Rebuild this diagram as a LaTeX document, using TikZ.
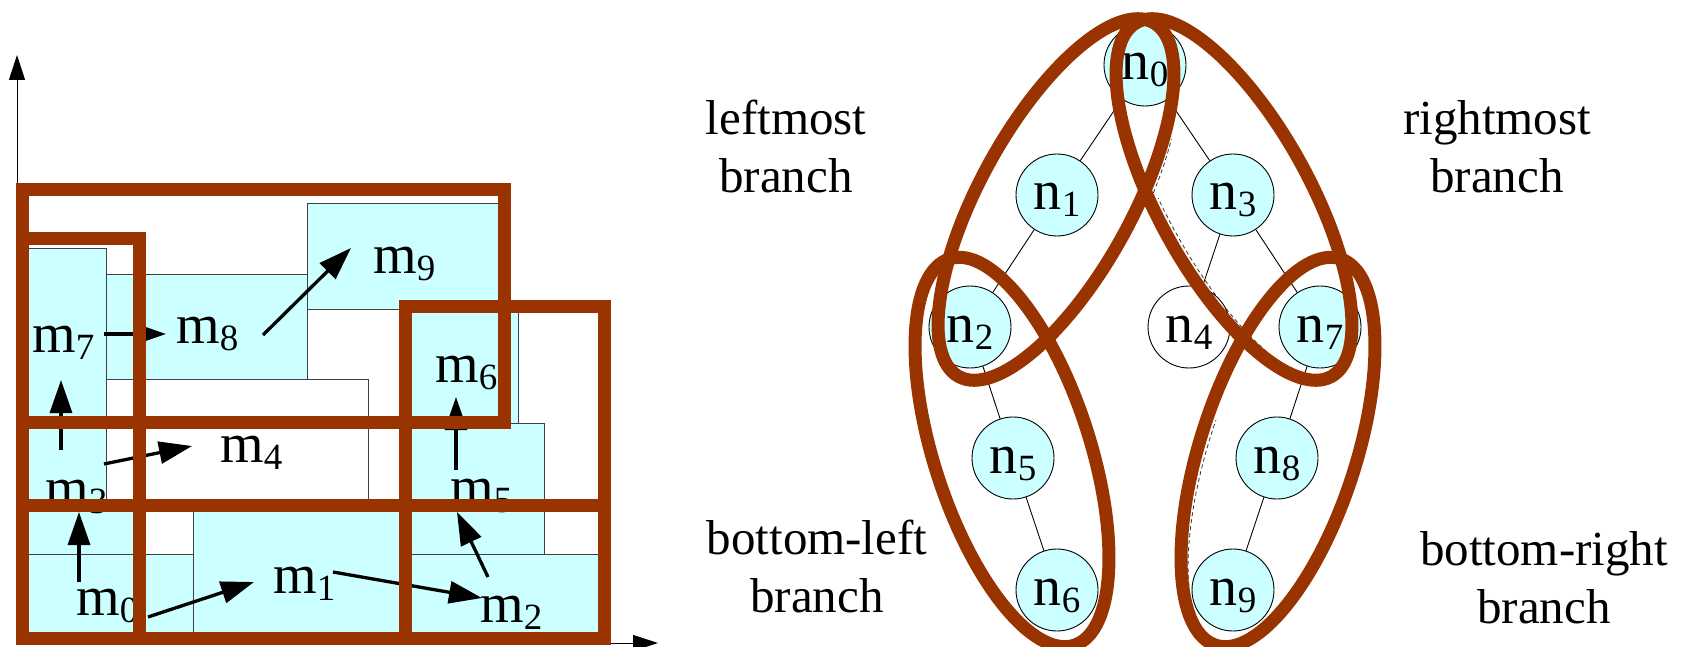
\documentclass[tikz,border=0pt]{standalone}
\usepackage{fontspec}
\setmainfont{Liberation Serif}
\usetikzlibrary{arrows.meta}
\definecolor{brick}{HTML}{993300}
\definecolor{paleblue}{HTML}{CCFFFF}
% lowered, smaller index digit used in m_i and n_i
\newcommand\idx[1]{\raisebox{-7pt}{\fontsize{37}{37}\selectfont #1}}

\begin{document}
\begin{tikzpicture}[x=1pt,y=-1pt,
  block/.style={fill=paleblue, draw=black!75, line width=0.9pt},
  voidblock/.style={fill=white, draw=black!75, line width=0.9pt},
  frame/.style={draw=brick, line width=13pt},
  mlabel/.style={anchor=base west, inner sep=0pt, font=\fontsize{56}{56}\selectfont},
  move/.style={line width=3.3pt, -{Triangle[length=33pt,width=22pt]}},
  axis/.style={line width=1pt, -{Triangle[length=25pt,width=16pt]}},
  tnode/.style={circle, draw=black, line width=0.9pt, fill=paleblue, minimum size=82pt,
                inner sep=0pt, text height=40pt, text depth=10pt, font=\fontsize{56}{56}\selectfont},
  treeedge/.style={draw=black, line width=0.9pt},
  branch/.style={draw=brick, line width=13pt},
  ghost/.style={draw=black!80, line width=0.8pt, dash pattern=on 4pt off 3pt},
  caption/.style={align=center, font=\fontsize{49}{58}\selectfont, inner sep=0pt}
]
\useasboundingbox (0,0) rectangle (1682,647);

% ---------------- left: placement grid ----------------
\coordinate (origin) at (17,643);
\coordinate (ytop) at (17,55);
\coordinate (xend) at (658,643);
\draw[axis] (origin) -- (ytop);
\draw[axis] (origin) -- (xend);

% module blocks
\path[block] (22,554) rectangle (193,638);   % m0
\path[block] (193,505) rectangle (405,638);  % m1
\path[block] (405,554) rectangle (598,638);  % m2
\path[block] (22,422) rectangle (139,554);   % m3
\path[voidblock] (106,379) rectangle (368,505); % m4
\path[block] (405,423) rectangle (544,554);  % m5
\path[block] (405,306) rectangle (518,423);  % m6
\path[block] (22,248) rectangle (106,422);   % m7
\path[block] (106,274) rectangle (307,379);  % m8
\path[block] (307,203) rectangle (504,309);  % m9

% module names
\node[mlabel] (m0) at (76,615) {m\idx{0}};
\node[mlabel] (m1) at (273,593) {m\idx{1}};
\node[mlabel] (m2) at (480,622) {m\idx{2}};
\node[mlabel] (m3) at (45,506) {m\idx{3}};
\node[mlabel] (m4) at (220,462) {m\idx{4}};
\node[mlabel] (m5) at (450,505) {m\idx{5}};
\node[mlabel] (m6) at (435,382) {m\idx{6}};
\node[mlabel] (m7) at (32,352) {m\idx{7}};
\node[mlabel] (m8) at (176,343) {m\idx{8}};
\node[mlabel] (m9) at (373,273) {m\idx{9}};

% placement order
\coordinate (a01) at (148,617); \coordinate (b01) at (254,582);
\coordinate (a12) at (333,572); \coordinate (b12) at (482,598);
\coordinate (a25) at (488,577); \coordinate (b25) at (457,512);
\coordinate (a56) at (456,470); \coordinate (b56) at (456,397);
\coordinate (a03) at (79,582);  \coordinate (b03) at (79,512);
\coordinate (a34) at (104,464); \coordinate (b34) at (192,446);
\coordinate (a37) at (61,450);  \coordinate (b37) at (61,380);
\coordinate (a78) at (104,334); \coordinate (b78) at (166,334);
\coordinate (a89) at (263,335); \coordinate (b89) at (351,248);
\foreach \s in {01,12,25,56,03,34,37,78,89}
  \draw[move] (a\s) -- (b\s);

% partition frames
\draw[frame] (22.5,189.5) rectangle (504.5,422.5);
\draw[frame] (22.5,239) rectangle (139,638);
\draw[frame] (405.5,306) rectangle (604.5,638);
\draw[frame] (22.5,505) rectangle (604.5,638);

% ---------------- right: tree and its branches ----------------
\begin{scope}
  \clip (1140,140) rectangle (1300,200);
  \draw[ghost, rotate around={61.2:(1056,199.5)}] (1056,199.5) ellipse [x radius=204pt, y radius=85pt];
\end{scope}
\begin{scope}
  \clip (1140,199) rectangle (1300,365);
  \draw[ghost, rotate around={118.8:(1234,199.5)}] (1234,199.5) ellipse [x radius=200pt, y radius=67pt];
\end{scope}
\begin{scope}
  \clip (1150,420) rectangle (1228,625);
  \draw[ghost, rotate around={72.1:(1278,452)}] (1278,452) ellipse [x radius=200pt, y radius=69pt];
\end{scope}

\node[tnode] (n0) at (1145,65) {n\idx{0}};
\node[tnode] (n1) at (1057,195) {n\idx{1}};
\node[tnode] (n3) at (1233,195) {n\idx{3}};
\node[tnode] (n2) at (970,327) {n\idx{2}};
\node[tnode, fill=white] (n4) at (1189,327) {n\idx{4}};
\node[tnode] (n7) at (1320,327) {n\idx{7}};
\node[tnode] (n5) at (1013,458) {n\idx{5}};
\node[tnode] (n8) at (1277,458) {n\idx{8}};
\node[tnode] (n6) at (1057,590) {n\idx{6}};
\node[tnode] (n9) at (1233,590) {n\idx{9}};

\foreach \p/\c in {n0/n1,n0/n3,n1/n2,n3/n4,n3/n7,n2/n5,n5/n6,n7/n8,n8/n9}
  \draw[treeedge] (\p) -- (\c);

% branches
\draw[branch, rotate around={61.2:(1056,199.5)}] (1056,199.5) ellipse [x radius=202pt, y radius=76pt];
\draw[branch, rotate around={118.8:(1234,199.5)}] (1234,199.5) ellipse [x radius=202pt, y radius=76pt];
\draw[branch, rotate around={107.9:(1012,452)}] (1012,452) ellipse [x radius=203pt, y radius=78pt];
\draw[branch, rotate around={72.1:(1278,452)}] (1278,452) ellipse [x radius=203pt, y radius=78pt];

% branch names (anchored on the baseline of the last line)
\node[caption, anchor=base] (capLM) at (786,193) {leftmost\\branch};
\node[caption, anchor=base] (capRM) at (1497,193) {rightmost\\branch};
\node[caption, anchor=base] (capBL) at (817,612) {bottom-left\\branch};
\node[caption, anchor=base] (capBR) at (1544,623) {bottom-right\\branch};
\end{tikzpicture}
\end{document}
